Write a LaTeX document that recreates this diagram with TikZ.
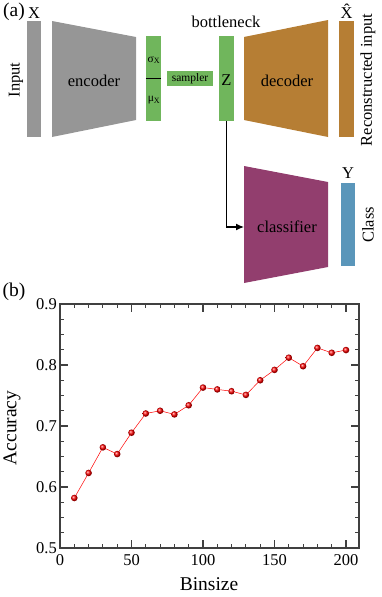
\documentclass[tikz,border=0pt]{standalone}
\usepackage{fontspec}
\setmainfont{Liberation Serif}
\usetikzlibrary{arrows.meta, positioning}

\definecolor{encgray}{RGB}{150,150,150}
\definecolor{latgreen}{RGB}{112,182,92}
\definecolor{decbrown}{RGB}{182,126,52}
\definecolor{clsplum}{RGB}{146,62,110}
\definecolor{clsblue}{RGB}{90,150,186}

\begin{document}
\begin{tikzpicture}[x=1pt, y=-1pt,
    bar/.style={inner sep=0pt, minimum width=15pt},
    txtlbl/.style={inner sep=0pt, font=\fontsize{16.5}{18}\selectfont},
    txtbig/.style={inner sep=0pt, font=\fontsize{19.5}{22}\selectfont},
    txtsmall/.style={inner sep=0pt, font=\fontsize{11.5}{13}\selectfont},
    axisline/.style={line width=1.3pt, black!75}]
  \useasboundingbox (0,0) rectangle (382,597);

  % (a) autoencoder with classifier
  \node[txtbig] (a) at (14,12) {(a)};
  \node[txtlbl] (xlbl) at (34,13) {X};
  \node[bar, fill=encgray, minimum width=14pt, minimum height=116pt] (input) at (34,79) {};
  \node[txtlbl, rotate=90] (inlbl) at (16,80) {Input};

  \fill[encgray] (52,21) -- (136,37) -- (136,120) -- (52,137) -- cycle;
  \node[txtlbl] (enc) at (94,81) {encoder};

  \node[bar, fill=latgreen, minimum height=85pt] (musig) at (153.5,78.5) {};
  \draw[line width=1.3pt] (musig.west) -- (musig.east);
  \node[txtsmall] (sig) at (154,60) {σ\textsubscript{X}};
  \node[txtsmall] (mu) at (154,100) {μ\textsubscript{X}};

  \node[bar, fill=latgreen, minimum width=46pt, minimum height=15pt, txtsmall] (samp) at (190,78.5) {sampler};

  \node[txtlbl] (bneck) at (226,22) {bottleneck};
  \node[bar, fill=latgreen, minimum height=85pt] (zbar) at (226.5,78.5) {};
  \node[txtlbl] (z) at (226.5,80) {Z};

  \fill[decbrown] (244,37) -- (328,20) -- (328,137) -- (244,120) -- cycle;
  \node[txtlbl] (dec) at (287,81) {decoder};

  \node[bar, fill=decbrown, minimum height=116pt] (xhat) at (346.5,79) {};
  \node[txtlbl] (xhatlbl) at (346.5,11) {\^{X}};
  \node[txtlbl, rotate=90] (reclbl) at (368,80) {Reconstructed input};

  \fill[clsplum] (244,166) -- (328,182) -- (328,267) -- (244,283) -- cycle;
  \node[txtlbl] (cls) at (287,227) {classifier};
  \coordinate (clsin) at (244,227);
  \draw[line width=1.2pt, -{Latex[length=8pt,width=7pt]}] (zbar.south) |- (clsin);

  \node[bar, fill=clsblue, minimum width=14pt, minimum height=83pt] (ybar) at (348,224.5) {};
  \node[txtlbl] (ylbl) at (348,173) {Y};
  \node[txtlbl, rotate=90] (classlbl) at (368,225) {Class};

  % (b) accuracy vs binsize
  \node[txtbig] (b) at (14,292) {(b)};
  \node[txtbig] (xaxlbl) at (209,584) {Binsize};
  \node[txtbig, rotate=90] (yaxlbl) at (12,428) {Accuracy};

  \begin{scope}[xshift=60pt, yshift=-853pt, x=1.43pt, y=610pt]
    \foreach \i in {1,...,15} {
      \draw[axisline, line width=1pt] (0,0.5+\i*0.025) -- ++(4pt,0pt);
      \draw[axisline, line width=1pt] (209,0.5+\i*0.025) -- ++(-4pt,0pt);
    }
    \foreach \v in {0.5,0.6,0.7,0.8,0.9} {
      \draw[axisline] (0,\v) -- ++(8pt,0pt);
      \draw[axisline] (209,\v) -- ++(-8pt,0pt);
      \node[txtlbl, anchor=east] at ([xshift=-3pt]0,\v) {\v};
    }
    \foreach \t in {10,20,...,200} {
      \draw[axisline, line width=1pt] (\t,0.5) -- ++(0pt,4pt);
      \draw[axisline, line width=1pt] (\t,0.9) -- ++(0pt,-4pt);
    }
    \foreach \t in {0,50,100,150,200} {
      \draw[axisline] (\t,0.5) -- ++(0pt,8pt);
      \draw[axisline] (\t,0.9) -- ++(0pt,-8pt);
      \node[txtlbl, anchor=north] at ([yshift=-6pt]\t,0.5) {\t};
    }
    \draw[axisline] (0,0.5) rectangle (209,0.9);

    \draw[red, line width=0.5pt] plot coordinates {(10,0.582) (20,0.623) (30,0.665)
      (40,0.654) (50,0.689) (60,0.7205) (70,0.725) (80,0.719) (90,0.734)
      (100,0.763) (110,0.760) (120,0.757) (130,0.751) (140,0.775) (150,0.792)
      (160,0.812) (170,0.798) (180,0.828) (190,0.820) (200,0.8245)};
    \foreach \bx/\ay in {10/0.582, 20/0.623, 30/0.665, 40/0.654, 50/0.689,
        60/0.7205, 70/0.725, 80/0.719, 90/0.734, 100/0.763, 110/0.760,
        120/0.757, 130/0.751, 140/0.775, 150/0.792, 160/0.812, 170/0.798,
        180/0.828, 190/0.820, 200/0.8245}
      \shade[ball color=red] (\bx,\ay) circle (3.3pt);
  \end{scope}
\end{tikzpicture}
\end{document}
